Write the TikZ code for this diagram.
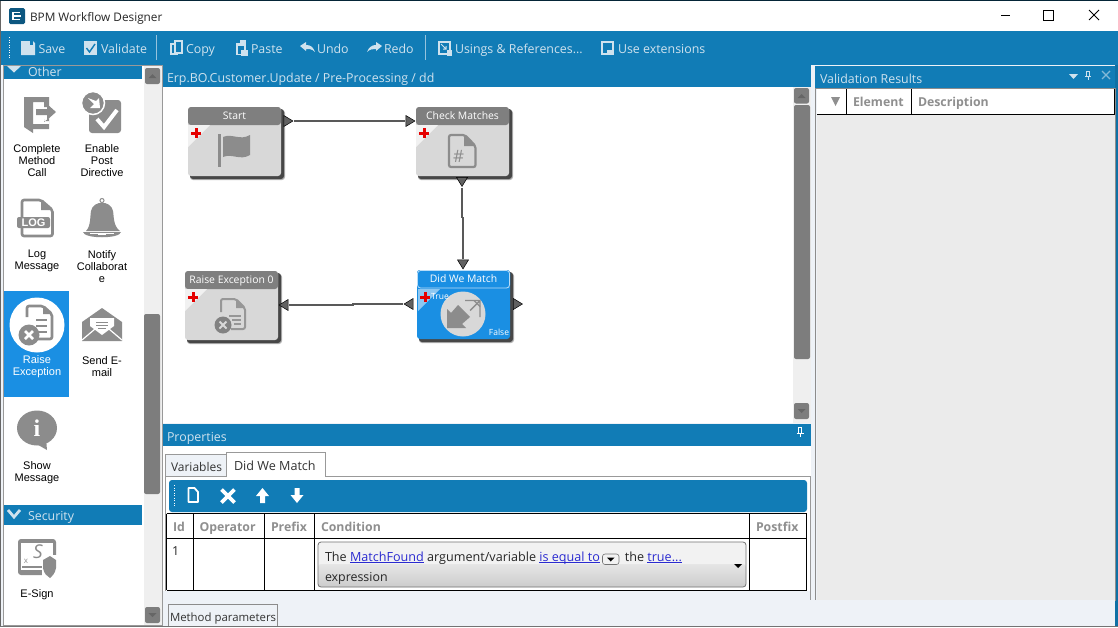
\documentclass[tikz,border=0pt]{standalone}
\usepackage{fontspec}
\setmainfont{Open Sans}
\newfontfamily\arialf{Liberation Sans}
\newfontfamily\serf{Liberation Serif}
\usetikzlibrary{shapes.geometric,arrows.meta}
\definecolor{ublue}{HTML}{117CB6}
\definecolor{selblue}{HTML}{1A8FE3}
\definecolor{ltxt}{HTML}{CFE2EE}
\definecolor{icong}{HTML}{8C8C8C}
\definecolor{boxg}{HTML}{D8D8D8}
\definecolor{headg}{HTML}{7F7F7F}
\definecolor{hdrtxt}{HTML}{8F8F8F}
\definecolor{panelbg}{HTML}{EEF2F7}
\definecolor{sbar}{HTML}{EFEFEF}
\definecolor{sthumb}{HTML}{7D7D7D}
\definecolor{lnk}{HTML}{2A2AD0}
\newcommand{\fs}[1]{\fontsize{#1}{#1}\selectfont}
\newcommand{\lk}[1]{\textcolor{lnk}{\underline{\smash{#1}}}}
\tikzset{
 x=1pt,y=-1pt,
 ui/.style={inner sep=0,outer sep=0,font=\fs{12.4},text height=10.5,text depth=.5},
 tb/.style={ui,text=ltxt,anchor=west},
 pal/.style={inner sep=0,outer sep=0,font=\arialf\fontsize{11}{12}\selectfont,align=center,text=black,yshift=-.5pt},
 colh/.style={ui,text=hdrtxt,anchor=west,font=\bfseries\fs{12.3}},
 wfbody/.style={draw=none,fill=boxg,rounded corners=3,minimum width=#1,minimum height=69,inner sep=0,outer sep=0,anchor=north west},
 wfbody/.default=93,
 wfhead/.style={fill=headg,text=white,rounded corners=3,minimum width=93,minimum height=18,inner sep=0,outer sep=0,anchor=north west,font=\fs{10.4},text height=8.5,text depth=1.5},
 port/.style={isosceles triangle,isosceles triangle stretches,minimum width=11,minimum height=9,inner sep=0,outer sep=.5,fill=black!62,draw=black,line width=.5},
 conn/.style={draw=black!65,line width=1.3},
 btn/.style={fill=sthumb,rounded corners=2},
}
\newcommand{\redplus}[2]{\fill[red!90!black] (#1-1.5,#2-5) rectangle (#1+1.5,#2+5); \fill[red!90!black] (#1-5,#2-1.5) rectangle (#1+5,#2+1.5);}
\newcommand{\wfbox}[6]{% name x y title bodycolor headcolor
 \fill[black!30,rounded corners=3] (#2+2,#3+3) rectangle (#2+97,#3+73);
 \fill[black!72,rounded corners=3] (#2+2,#3+2) rectangle (#2+96,#3+72);
 \node[wfbody,fill=#5] (#1) at (#2,#3) {};
 \node[wfhead,fill=#6] (#1h) at (#2,#3) {#4};
}
\begin{document}
\begin{tikzpicture}
\useasboundingbox (0,0) rectangle (1118,627);
% window
\fill[panelbg] (0,0) rectangle (1118,627);
\fill[white] (0,1) rectangle (1118,31);
\fill[black!70!ublue] (0,0) rectangle (1118,1.2);
\fill[ublue] (0,31) rectangle (1118,65);
\fill[ublue!90!black] (1115,65) rectangle (1118,627);
% title bar
\fill[black!30!ublue,rounded corners=1.5] (9,8) rectangle (25,24);
\draw[white,line width=1.5] (20,12.5) -- (13,12.5) -- (13,19.5) -- (20,19.5) (13,16) -- (21,16);
\node[ui,anchor=west,font=\fs{11.8},text=black!85] (title) at (30,16) {BPM Workflow Designer};
\draw[black,line width=.8] (1001,15) -- (1010,15);
\draw[black,line width=.8] (1043.5,10.5) rectangle (1053,20);
\draw[black,line width=.8] (1089,10) -- (1099,20) (1099,10) -- (1089,20);
% toolbar
\draw[white,line width=1,dash pattern=on 1 off 1.5] (9,37) -- (9,58);
\fill[ltxt] (21,41) -- (33,41) -- (35,43) -- (35,55) -- (21,55) -- cycle; \fill[ublue] (30,41) rectangle (33,45);
\node[tb] (tSave) at (38.5,48) {Save};
\fill[ltxt] (84,41) rectangle (97,55); \draw[ublue,line width=1.4] (86.5,48) -- (89.5,52) -- (95,44);
\node[tb] (tVal) at (101,48) {Validate};
\draw[ltxt!70!ublue,line width=.8] (156.5,35) -- (156.5,60);
\draw[ltxt,line width=1.4] (171,44) -- (177,44) -- (177,54) -- (171,54) -- cycle;
\draw[ltxt,line width=1.4,fill=ublue] (175,41) -- (182,41) -- (182,53) -- (175,53) -- cycle;
\node[tb] (tCopy) at (186,48) {Copy};
\fill[ltxt] (236,43) rectangle (246,55); \fill[ltxt] (240,40) rectangle (246,44); \fill[ublue] (238,46) rectangle (244,54); \fill[ltxt] (241,50) rectangle (248,56);
\node[tb] (tPaste) at (251,48) {Paste};
\fill[ltxt] (300,46) -- (306,42) -- (306,45) .. controls (311,45) and (313,47) .. (315,52) .. controls (312,49) and (310,49) .. (306,49) -- (306,51) -- cycle;
\node[tb] (tUndo) at (317,48) {Undo};
\fill[ltxt] (382,46) -- (376,42) -- (376,45) .. controls (372,45) and (369,47) .. (367,52) .. controls (370,49) and (373,49) .. (376,49) -- (376,51) -- cycle;
\node[tb] (tRedo) at (384,48) {Redo};
\draw[ltxt!70!ublue,line width=.8] (425.5,35) -- (425.5,60);
\draw[ltxt,line width=1.4] (439,42) rectangle (450,54); \fill[ltxt] (447,50) rectangle (452,56);
\draw[ltxt,line width=1] (441,44) -- (446,49) (446,46) -- (446,49) -- (443,49);
\node[tb] (tUse) at (455,48) {Usings \& References...};
\fill[ltxt] (601,41) rectangle (614,55); \fill[ublue] (603,43) rectangle (612,50);  \fill[ublue] (603,50) rectangle (607,53);
\node[tb] (tExt) at (618,48) {Use extensions};
% left panel
\fill[white] (3,65) rectangle (144,625);
\draw[black!40,line width=.8] (3.5,65.5) rectangle (162,625.5);
\fill[sbar] (144,66) rectangle (161.5,625);
\begin{scope}
\clip (4,66) rectangle (144,79);
\fill[ublue] (4,66) rectangle (142,79);
\node[ui,anchor=west,text=ltxt] (tOther) at (28,71) {Other};
\fill[ltxt] (7,66) -- (14,72.5) -- (21,66) -- cycle;
\end{scope}
\fill[btn] (145,68) rectangle +(15,16); \fill[black!60] (148.5,78) -- ++(8,0) -- ++(-4,-4) -- cycle;
\fill[sthumb,rounded corners=2] (144,314) rectangle (160,494);
\fill[btn] (145,607) rectangle +(15,16); \fill[black!60] (148.5,613) -- ++(8,0) -- ++(-4,4) -- cycle;
% Complete
\fill[icong] (24,97) -- (49,97) -- (49,107) -- (44,107) -- (44,102) -- (33,102) -- (33,133) -- (24,127) -- cycle;
\fill[icong] (36,109) -- (47,109) -- (47,104) -- (56,112) -- (47,120) -- (47,115) -- (36,115) -- cycle;
\fill[icong] (33,124) -- (49,124) -- (49,118) -- (44,122) -- (44,119) -- (44,121) -- (49,121) -- (49,129) -- (33,129) -- cycle;
\node[pal] (pComplete) at (37,160.5) {Complete\\Method\\Call};
% Enable
\fill[icong,rounded corners=3] (89,100) rectangle (121,133);
\fill[icong,draw=white,line width=1.5] (93,103) circle[radius=11.5];
\fill[white] (88,98) -- (96,101) -- (99,98) -- (100,108) -- (90,108) -- (94,104) -- cycle;
\draw[white,line width=4] (97,119) -- (104,127) -- (117,110);
\node[pal] (pEnable) at (102,160.5) {Enable\\Post\\Directive};
% Log
\draw[icong,line width=2.6,rounded corners=2,fill=white] (22,200) -- (41,200) -- (52.5,210) -- (52.5,236) -- (22,236) -- cycle;
\fill[icong] (41,200) -- (52.5,210) -- (41,210) -- cycle;
\fill[icong,rounded corners=2] (17,217) rectangle (50,228);
\node[inner sep=0,font=\bfseries\arialf\fs{11},text=white] (iLog) at (33.5,222.7) {LOG};
\node[pal] (pLog) at (37,260.5) {Log\\Message};
% Bell
\draw[icong,line width=1] (102,200.5) circle[radius=2];
\fill[icong] (86,231) .. controls (91,226) and (90,216) .. (91,211) .. controls (93,200) and (111,200) .. (113,211) .. controls (114,216) and (113,226) .. (120,231) -- cycle;
\fill[icong] (83,232) -- (121,232) .. controls (120,239) and (84,239) .. (83,232) -- cycle;
\fill[white] (90,232.5) rectangle (114,234);
\fill[white] (98,234) rectangle (106,235);
\node[pal] (pNotify) at (102,266.5) {Notify\\Collaborat\\e};
% Raise selected
\fill[selblue] (4,291) rectangle (69,397);
\fill[white] (37,325) circle[radius=27.5];
\draw[icong,line width=2.6,rounded corners=2] (27,317) -- (27,306) -- (43,306) -- (52,314) -- (52,339) -- (36,339);
\fill[icong] (43,306) -- (52,314) -- (43,314) -- cycle;
\draw[icong,line width=1.4] (36,320) -- (47,320) (36,326) -- (47,326) (38,332) -- (47,332);
\fill[icong] (29,335) circle[radius=10.5];
\draw[white,line width=2.6] (25,331) -- (33,339) (33,331) -- (25,339);
\node[pal,text=white] (pRaise) at (37,366.5) {Raise\\Exception};
% Mail
\fill[icong] (82,322) -- (102,308) -- (122,322) -- (122,341) -- (82,341) -- cycle;
\fill[white] (90,318) -- (114,318) -- (114,326) -- (102,335) -- (90,326) -- cycle;
\draw[icong,line width=.8] (96,322) -- (108,322) (96,325) -- (108,325) (98,328) -- (106,328);
\draw[white,line width=1.2] (82,340) -- (95,329) (122,340) -- (109,329);
\node[pal] (pSend) at (102,366.5) {Send E-\\mail};
% Show
\fill[icong] (37,428) ellipse[x radius=20,y radius=17.5];
\fill[icong] (33,442) -- (47,450) -- (46,438) -- cycle;
\node[inner sep=0,font=\serf\bfseries\fs{24},text=white] (iInfo) at (37,428) {i};
\node[pal] (pShow) at (37,472.5) {Show\\Message};
% Security
\fill[ublue] (4,504.5) rectangle (142,525);
\draw[ltxt,line width=2.8] (8,510) -- (14,517) -- (20,510);
\node[ui,anchor=west,text=ltxt] (tSec) at (28,515.5) {Security};
\fill[icong,rounded corners=3] (18,539) rectangle (56,575);
\fill[white] (21,543) rectangle (53,570);
\node[inner sep=0,font=\itshape\fs{19},text=icong] (iS) at (38,552) {S};
\node[inner sep=0,font=\fs{8},text=icong] (iX) at (26,561) {x};
\fill[icong] (22,566) rectangle (42,567.5);
\fill[white] (42,555) rectangle (58,579);
\fill[icong] (43,560) -- (50,556) -- (56,560) -- (56,568) .. controls (55,574) and (52,576) .. (50,578) .. controls (47,576) and (44,574) .. (43,568) -- cycle;
\node[pal] (pSign) at (37,594.5) {E-Sign};
% document pane
\fill[ublue] (163,65) rectangle (811,87);
\node[ui,anchor=west,text=ltxt] (tDoc) at (167,77) {Erp.BO.Customer.Update / Pre-Processing / dd};
\fill[white] (163,87) rectangle (811,423);
\fill[sbar] (793,87) rectangle (811,423);
\fill[btn] (794,88) rectangle +(15,15.5); \fill[black!60] (797.5,98) -- ++(8,0) -- ++(-4,-4) -- cycle;
\fill[sthumb,rounded corners=2] (794,105) rectangle (810,359);
\fill[btn] (794,403) rectangle +(15,16); \fill[black!60] (797.5,409) -- ++(8,0) -- ++(-4,4) -- cycle;
% workflow boxes
\wfbox{nStart}{188}{107}{Start}{boxg}{headg}
\wfbox{nCheck}{416}{107}{Check Matches}{boxg}{headg}
\wfbox{nRaise}{185}{271}{Raise Exception 0}{boxg}{headg}
\wfbox{nDid}{417}{270}{Did We Match}{selblue}{selblue}
\draw[white!70!selblue,line width=.8,rounded corners=3] (417.5,270.5) rectangle (509.5,288);
% corner triangles
\fill[boxg!35!white] (188,125) -- (210,125) -- (188,147) -- cycle;
\fill[boxg!35!white] (416,125) -- (438,125) -- (416,147) -- cycle;
\fill[boxg!35!white] (185,289) -- (207,289) -- (185,311) -- cycle;
\fill[selblue!50!white] (418,289) -- (440,289) -- (418,311) -- cycle;
\redplus{196}{133}
\redplus{424}{133}
\redplus{193}{297}
\redplus{425}{297}
% flag
\fill[icong] (218,134) rectangle (221,167);
\fill[icong] (223,137) .. controls (232,133) and (240,141) .. (250,135) -- (250,155) .. controls (240,161) and (232,153) .. (223,157) -- cycle;
% hash doc
\draw[icong,line width=2.2,rounded corners=2] (449,135) -- (465,135) -- (475.5,146) -- (475.5,167) -- (449,167) -- cycle;
\fill[icong] (464,135) -- (475.5,146) -- (464,146) -- cycle;
\node[inner sep=0,font=\fs{17},text=icong] (iHash) at (458.5,156) {\#};
% raise node icon
\draw[boxg!70!black,line width=2,rounded corners=2] (221,312) -- (221,299) -- (236,299) -- (245,308) -- (245,329) -- (231,329);
\fill[boxg!70!black] (236,299) -- (245,308) -- (236,308) -- cycle;
\draw[boxg!70!black,line width=1.2] (229,316) -- (241,316) (232,320) -- (241,320) (234,324) -- (241,324);
\fill[boxg!60!black] (223,325) circle[radius=8.5];
\draw[boxg,line width=2] (219.5,321.5) -- (226.5,328.5) (226.5,321.5) -- (219.5,328.5);
% decision icon
\fill[boxg] (463,314) circle[radius=22.5];
\draw[icong,line width=1.4] (465,300.5) -- (480,300.5) -- (480,317) (480,300.5) -- (470,310.5);
\draw[icong,line width=1.4] (474,300.5) -- (480,306.5);
\fill[icong] (447,309) -- (451,313) -- (458,305) -- (470,317) -- (462,324) -- (466,328) -- (447,328) -- cycle;
\node[inner sep=0,font=\fs{8.5},text=white] (iTrue) at (440,297) {True};
\node[inner sep=0,font=\fs{8.5},text=white] (iFalse) at (499,332) {False};
% ports
\node[port] (pStartOut) at (287,121) {};
\node[port] (pCheckIn) at (409,121) {};
\node[port,shape border rotate=-90] (pCheckOut) at (462,180.5) {};
\node[port,shape border rotate=-90] (pDidIn) at (463,263) {};
\node[port,shape border rotate=180] (pDidLeft) at (410,304) {};
\node[port] (pDidRight) at (516.5,304) {};
\node[port,shape border rotate=180] (pRaiseIn) at (285,305) {};
% connectors
\draw[conn] (pStartOut) -- (pCheckIn);
\draw[conn] (pCheckOut) -- ++(0,37) -- ++(1,0) -- (pDidIn);
\draw[conn] (pDidLeft) -- ++(-57,0) -- ++(0,1) -- (pRaiseIn);
% validation panel
\fill[ublue] (815,66) rectangle (1115,88);
\node[ui,anchor=west,text=ltxt] (tVR) at (820,78) {Validation Results};
\fill[ltxt] (1069,74) -- (1078,74) -- (1073.5,79) -- cycle;
\draw[ltxt,line width=1] (1086.5,71) rectangle (1089.5,76) (1085,76.5) -- (1091,76.5) (1088,77) -- (1088,80);
\draw[ltxt!60!ublue,line width=1.2] (1102,71) -- (1110,79) (1110,71) -- (1102,79);
\fill[white] (817,89) rectangle (1115,114);
\fill[black!8] (817,114) rectangle (1115,600);
\draw[black!45,line width=.8] (815.5,88) rectangle (1115.5,600.5);
\draw[black,line width=.8] (817,114.5) -- (1115,114.5) (846.5,89) -- (846.5,114) (911.5,89) -- (911.5,114) (1114.5,89) -- (1114.5,114);
\fill[hdrtxt] (831,97) -- (840,97) -- (835.5,106) -- cycle;
\node[colh] (hEl) at (853,101) {Element};
\node[colh] (hDe) at (918,101) {Description};
% properties
\fill[white] (163,446) rectangle (811,600);
\fill[ublue] (163,424) rectangle (811,446);
\node[ui,anchor=west,text=ltxt] (tProp) at (167,436) {Properties};
\draw[white,line width=1] (798.5,427) rectangle (801.5,433) (796.5,433.5) -- (803.5,433.5) (800,434) -- (800,437);
\draw[black!40,line width=.8,fill=panelbg] (165.5,454.5) rectangle (226.5,476.5);
\node[ui,anchor=west,text=black!80,font=\fs{12}] (tabV) at (171,466.5) {Variables};
\draw[black!40,line width=.8] (165.5,476.5) -- (810,476.5) -- (810,600) (165.5,476.5) -- (165.5,600);
\draw[black!40,line width=.8,fill=white] (226.5,477) -- (226.5,452.5) -- (325.5,452.5) -- (325.5,477);
\node[ui,anchor=west,text=black!80,font=\fs{12.6}] (tabD) at (234,465) {Did We Match};
\fill[ublue,rounded corners=3] (169,480) rectangle (807,512);
\draw[white,line width=1,dash pattern=on 1 off 1.5] (174,485) -- (174,507);
\draw[white,line width=1.8,line join=round] (188.5,488) -- (194.5,488) -- (198,492) -- (198,502) -- (188.5,502) -- cycle;
\draw[white,line width=3.6] (221.5,489.5) -- (234.5,502.5) (234.5,489.5) -- (221.5,502.5);
\fill[white] (262.5,488) -- (269,496) -- (265,496) -- (265,503) -- (260,503) -- (260,496) -- (256,496) -- cycle;
\fill[white] (297,503) -- (303.5,495) -- (299.5,495) -- (299.5,488) -- (294.5,488) -- (294.5,495) -- (290.5,495) -- cycle;
% table
\draw[black,line width=.9] (166.5,513.5) -- (807,513.5) (166.5,538.5) -- (807,538.5) (166.5,590) -- (807,590)
 (166.5,513.5) -- (166.5,590) (193,513.5) -- (193,590) (264.5,513.5) -- (264.5,590) (314.5,513.5) -- (314.5,590) (749.5,513.5) -- (749.5,590) (806.5,513.5) -- (806.5,590);
\node[colh] (hId) at (173,526) {Id};
\node[colh] (hOp) at (199.5,526) {Operator};
\node[colh] (hPr) at (271,526) {Prefix};
\node[colh] (hCo) at (321,526) {Condition};
\node[colh] (hPo) at (756,526) {Postfix};
\node[ui,anchor=west,text=black!85] (c1) at (172,550) {1};
\fill[black!5,rounded corners=3] (318,542) rectangle (746,587);
\shade[top color=black!10,bottom color=black!20,rounded corners=3] (318,564) rectangle (746,587);
\draw[black!55,line width=.8,rounded corners=3] (318,542) rectangle (746,587);
\node[ui,anchor=base west,text=black!85,text height=,text depth=,font=\fs{12.6}] (cLine) at (325,561) {The \lk{MatchFound} argument/variable \lk{is equal to}\hspace{25pt}the \lk{true...}};
\fill[black!5,draw=black!55,line width=.6,rounded corners=2.5] (602.5,554) rectangle (619,564.5);
\fill[black] (607,557.5) -- (614.5,557.5) -- (610.75,561.5) -- cycle;
\node[ui,anchor=west,text=black!85] (cExp) at (325,576) {expression};
\fill[black] (734,564) -- (742,564) -- (738,568) -- cycle;
% bottom
\fill[panelbg] (163,590.5) rectangle (810,600);
\fill[panelbg] (163,600) rectangle (1115,627);
\draw[black!45,line width=.8,fill=panelbg] (168,627) -- (168,604.5) -- (277.5,604.5) -- (277.5,627);
\node[ui,anchor=west,text=black!80,font=\fs{11.4}] (tabM) at (170,616) {Method parameters};
\fill[black!55] (0,626) rectangle (1118,627);
\fill[black!60] (0,1) rectangle (1,626);
\end{tikzpicture}
\end{document}
